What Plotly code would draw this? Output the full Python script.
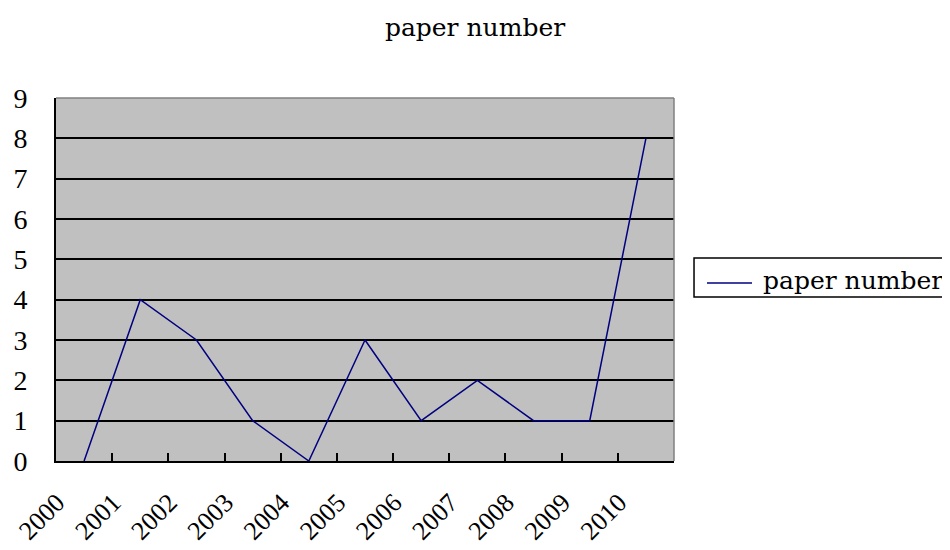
import plotly.graph_objects as go

years = ["2000", "2001", "2002", "2003", "2004", "2005", "2006", "2007", "2008", "2009", "2010"]
paper_number = [0, 4, 3, 1, 0, 3, 1, 2, 1, 1, 8]
y_ticks = [0, 1, 2, 3, 4, 5, 6, 7, 8, 9]
series_name = "paper number"
chart_title = "paper number"

text_font = "DejaVu Serif"
digit_font = "Liberation Serif"

fig = go.Figure()
fig.add_trace(go.Scatter(
    x=years, y=paper_number, mode="lines", name=series_name,
    line=dict(color="#000080", width=1.5), showlegend=False,
))

# page body has an 8px margin, so the figure is laid out 8px smaller/shifted
fig.update_layout(
    width=942, height=542,
    margin=dict(l=48, r=276, t=90, b=89, autoexpand=False),
    paper_bgcolor="white",
    plot_bgcolor="#C0C0C0",
    title=dict(text=chart_title, x=0.4958, xanchor="center", y=0.965, yanchor="middle",
               font=dict(family=text_font, size=25, color="black")),
    showlegend=False,
    xaxis=dict(type="category", range=[-0.5, 10.5], tickson="boundaries",
               ticks="inside", ticklen=8, tickwidth=1.5, tickcolor="black",
               showgrid=False, showline=True, linecolor="black", linewidth=2,
               tickangle=-45, ticklabelshift=-27, ticklabelstandoff=14,
               tickfont=dict(family=digit_font, size=26, color="black"),
               zeroline=False, fixedrange=True, automargin=False),
    yaxis=dict(range=[0, 9], tickmode="array", tickvals=y_ticks,
               ticktext=[str(v) for v in y_ticks],
               ticks="inside", ticklen=8, tickwidth=1.5, tickcolor="black",
               showgrid=True, gridcolor="black", gridwidth=1.5,
               showline=True, linecolor="black", linewidth=2,
               zeroline=False, ticklabelstandoff=21,
               tickfont=dict(family=digit_font, size=28, color="black"),
               fixedrange=True, automargin=False),
)

# gray top and right frame
fig.add_shape(type="line", xref="paper", yref="paper", x0=0, x1=1, y0=1, y1=1,
              line=dict(color="#808080", width=1.5), layer="above")
fig.add_shape(type="line", xref="paper", yref="paper", x0=1, x1=1, y0=0, y1=1,
              line=dict(color="#808080", width=1.5), layer="above")

# legend box (drawn manually to match the reference layout)
fig.add_shape(type="rect", xref="paper", yref="paper", x0=1.0324, x1=1.4434,
              y0=0.4518, y1=0.5592, line=dict(color="black", width=1.5),
              fillcolor="white", layer="above")
fig.add_shape(type="line", xref="paper", yref="paper", x0=1.0534, x1=1.1262,
              y0=0.4904, y1=0.4904, line=dict(color="#000080", width=1.5), layer="above")
fig.add_annotation(text=series_name, xref="paper", yref="paper", x=1.1408, y=0.4959,
                   xanchor="left", yanchor="middle", showarrow=False,
                   font=dict(family=text_font, size=25, color="black"))

fig.write_html("out.html")
